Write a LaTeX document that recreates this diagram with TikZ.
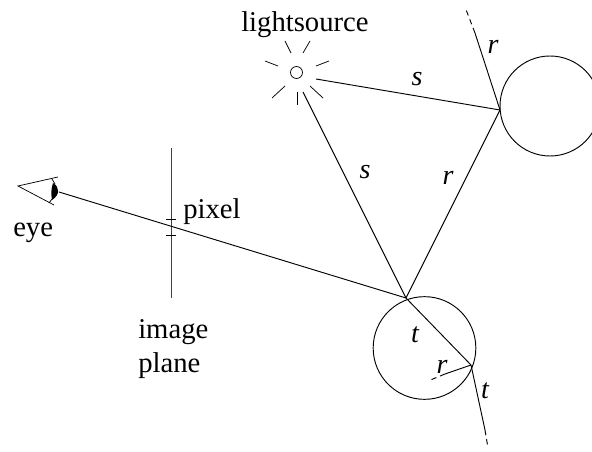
\documentclass[tikz,border=0pt]{standalone}
\usepackage{fontspec}
\setmainfont{Liberation Serif}
\usepackage{tikz}
\usetikzlibrary{positioning, calc}

\tikzset{
    ray/.style={black, line width=0.7pt},
    thinray/.style={black, line width=0.55pt},
    dashray/.style={black, line width=0.7pt, dash pattern=on 4pt off 3pt},
    lbl/.style={font=\fontsize{21.5}{24}\selectfont, inner sep=0pt},
    raylbl/.style={font=\fontsize{21}{24}\selectfont\itshape, inner sep=0pt},
}

\begin{document}
\begin{tikzpicture}[x=0.75pt, y=-0.75pt]
    \useasboundingbox (0,0) rectangle (592,452);

    % Hit points
    \coordinate (eyeball) at (59,192);
    \coordinate (hitfront) at (406,298);
    \coordinate (hitright) at (500,110);
    \coordinate (hitback) at (471,365);
    \coordinate (reflend) at (475,33);
    \coordinate (reflfree) at (465,7);
    \coordinate (innerend) at (445,374);
    \coordinate (innerfree) at (428,381);
    \coordinate (outend) at (485,430);
    \coordinate (outfree) at (488,448);

    % Spheres
    \node[draw, circle, ray, minimum size=75pt, inner sep=0pt] (bigsphere) at (550,106) {};
    \node[draw, circle, ray, minimum size=77pt, inner sep=0pt] (smallsphere) at (424.5,348) {};

    % Light source
    \node[draw, circle, thinray, minimum size=9pt, inner sep=0pt] (lamp) at (296.5,72.5) {};
    \draw[thinray] (285,41) -- (291,53);
    \draw[thinray] (310,41) -- (303,53);
    \draw[thinray] (265,61) -- (278,66);
    \draw[thinray] (329,61) -- (316,66);
    \draw[thinray] (285,86) -- (272,98);
    \draw[thinray] (310,86) -- (323,98);
    \draw[thinray] (297,92) -- (297,105);
    \coordinate (shadowa) at (316,79);
    \coordinate (shadowb) at (303,92);

    % Image plane
    \coordinate (planetop) at (171,148);
    \coordinate (planebot) at (171,298);
    \draw[black!75, line width=0.75pt] (planetop) -- (planebot);
    \draw[thinray] (166,219) -- (176,219);
    \draw[thinray] (166,235) -- (176,235);

    % Eye
    \draw[thinray] (58,177) -- (18,186) -- (54,205);
    \draw[thinray] (52,179) -- (55,184);
    \draw[thinray] (49,203) -- (52,199);
    \fill[black] (53,183) .. controls (60,187) and (60,195) .. (52,200)
        .. controls (51,194) and (51,189) .. (53,183);

    % Rays
    \draw[ray] (eyeball) -- (hitfront);
    \draw[ray] (shadowa) -- (hitright);
    \draw[ray] (shadowb) -- (hitfront);
    \draw[ray] (hitright) -- (hitfront);
    \draw[ray] (hitright) -- (reflend);
    \draw[dashray] (reflend) -- (reflfree);
    \draw[ray] (hitfront) -- (hitback);
    \draw[ray] (hitback) -- (innerend);
    \draw[dashray] (innerend) -- (innerfree);
    \draw[ray] (hitback) -- (outend);
    \draw[dashray] (outend) -- (outfree);

    % Labels
    \node[lbl, anchor=base west] (lightlabel) at (241,32) {lightsource};
    \node[lbl, anchor=base west] (eyelabel) at (13,237) {eye};
    \node[lbl, anchor=base west] (pixellabel) at (183,219) {pixel};
    \node[lbl, anchor=base west] (imagelabel) at (138,338) {image};
    \node[lbl, anchor=base west] (planelabel) at (138,372) {plane};
    \node[raylbl] (stop) at (417,79) {s};
    \node[raylbl] (sleft) at (365,172) {s};
    \node[raylbl] (rtop) at (493,47) {r};
    \node[raylbl] (rmid) at (448,178) {r};
    \node[raylbl] (rin) at (442,367) {r};
    \node[raylbl] (tin) at (415,335) {t};
    \node[raylbl] (tout) at (485,391) {t};
\end{tikzpicture}
\end{document}
